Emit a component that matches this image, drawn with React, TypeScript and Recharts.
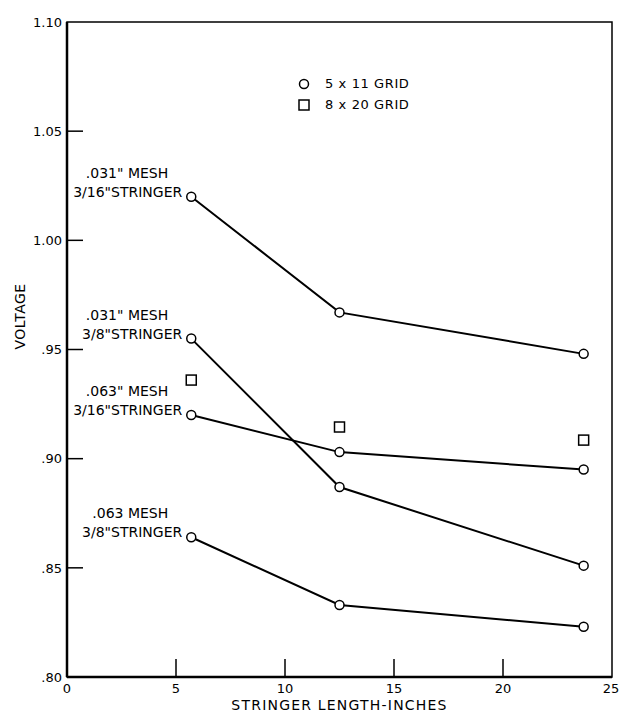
import {
  ComposedChart,
  Line,
  Scatter,
  XAxis,
  YAxis,
  ReferenceArea,
} from "recharts";

// stringer lengths (inches) where each grid was measured
const LENGTHS = [5.7, 12.5, 23.7];

// 5 x 11 grid, voltage per stringer length
const MESH_031_316 = [1.02, 0.967, 0.948];
const MESH_031_38 = [0.955, 0.887, 0.851];
const MESH_063_316 = [0.92, 0.903, 0.895];
const MESH_063_38 = [0.864, 0.833, 0.823];

// 8 x 20 grid
const GRID_8X20 = [0.936, 0.9145, 0.9085];

const X_TICKS = [0, 5, 10, 15, 20, 25];
const Y_TICKS = [0.8, 0.85, 0.9, 0.95, 1.0, 1.05, 1.1];
const Y_TICK_LABELS = [".80", ".85", ".90", ".95", "1.00", "1.05", "1.10"];

const SERIES = [
  { name: "a", values: MESH_031_316, label: ['.031" MESH', '3/16"STRINGER'] },
  { name: "b", values: MESH_031_38, label: ['.031" MESH', '3/8"STRINGER'] },
  { name: "c", values: MESH_063_316, label: ['.063" MESH', '3/16"STRINGER'] },
  { name: "d", values: MESH_063_38, label: [".063 MESH", '3/8"STRINGER'] },
];

const LEGEND = ["5 x 11 GRID", "8 x 20 GRID"];

const FONT = "'DejaVu Sans', sans-serif";

const toPoints = (values: number[]) => LENGTHS.map((x, i) => ({ x, y: values[i] }));

const YTick = (props: any) => {
  const { x, y, payload } = props;
  const i = Y_TICKS.indexOf(payload.value);
  const axisX = x + 5;
  const inner = i > 0 && i < Y_TICKS.length - 1;
  return (
    <g>
      {inner && <line x1={axisX} x2={axisX + 16} y1={y} y2={y} stroke="#000" strokeWidth={1.5} />}
      <text x={x} y={y} dy="0.36em" textAnchor="end" fontSize={13} fontFamily={FONT} fill="#000">
        {Y_TICK_LABELS[i]}
      </text>
    </g>
  );
};

const XTick = (props: any) => {
  const { x, y, payload } = props;
  const axisY = y - 6;
  const inner = payload.value > 0 && payload.value < 25;
  return (
    <g>
      {inner && <line x1={x} x2={x} y1={axisY} y2={axisY - 18} stroke="#000" strokeWidth={1.5} />}
      <text x={x} y={y} dy="0.74em" textAnchor="middle" fontSize={13} fontFamily={FONT} fill="#000">
        {payload.value}
      </text>
    </g>
  );
};

const makeLabel = (lines: string[]) => (props: any) => {
  if (props.index !== 0) return null;
  const { x, y } = props;
  const right = x - 9;
  return (
    <g fontSize={14} fontFamily={FONT} fill="#000">
      <text x={right - 14} y={y - 19} textAnchor="end">{lines[0]}</text>
      <text x={right} y={y} textAnchor="end">{lines[1]}</text>
    </g>
  );
};

const Square = (props: any) => (
  <rect
    x={props.cx - 5}
    y={props.cy - 5}
    width={10}
    height={10}
    fill="none"
    stroke="#000"
    strokeWidth={1.5}
  />
);

export default function App() {
  return (
    <div
      style={{
        position: "absolute",
        left: 0,
        top: 0,
        width: 619,
        height: 713,
        background: "#fff",
      }}
    >
      <ComposedChart
        width={619}
        height={713}
        margin={{ top: 22, right: 7, bottom: 0, left: 17 }}
      >
        <ReferenceArea
          x1={0}
          x2={25}
          y1={0.8}
          y2={1.1}
          fill="none"
          stroke="#000"
          strokeWidth={1.5}
        />
        <XAxis
          dataKey="x"
          type="number"
          domain={[0, 25]}
          ticks={X_TICKS}
          height={36}
          tickSize={0}
          tickMargin={6}
          tick={<XTick />}
          axisLine={{ stroke: "#000", strokeWidth: 2.5 }}
          label={{
            value: "STRINGER LENGTH-INCHES",
            position: "insideBottom",
            offset: 3,
            fill: "#000",
            fontSize: 14,
            letterSpacing: 1.2,
            fontFamily: FONT,
          }}
        />
        <YAxis
          dataKey="y"
          type="number"
          domain={[0.8, 1.1]}
          ticks={Y_TICKS}
          width={50}
          tickSize={0}
          tickMargin={5}
          tick={<YTick />}
          axisLine={{ stroke: "#000", strokeWidth: 2.5 }}
          label={{
            value: "VOLTAGE",
            angle: -90,
            position: "insideLeft",
            offset: 3,
            fill: "#000",
            fontSize: 14,
            letterSpacing: 0.5,
            fontFamily: FONT,
          }}
        />
        {SERIES.map((s) => (
          <Line
            key={s.name}
            data={toPoints(s.values)}
            dataKey="y"
            stroke="#000"
            strokeWidth={2}
            dot={{ r: 4.5, fill: "#fff", stroke: "#000", strokeWidth: 1.5 }}
            activeDot={false}
            label={makeLabel(s.label)}
            isAnimationActive={false}
          />
        ))}
        <Scatter data={toPoints(GRID_8X20)} shape={<Square />} isAnimationActive={false} />
      </ComposedChart>
      <div
        style={{
          position: "absolute",
          left: 298,
          top: 73,
          fontFamily: FONT,
          fontSize: 13,
          letterSpacing: 0.6,
          lineHeight: "21px",
          color: "#000",
        }}
      >
        <div style={{ display: "flex", alignItems: "center" }}>
          <svg width={12} height={12} style={{ marginRight: 15 }}>
            <circle cx={6} cy={6} r={4.5} fill="none" stroke="#000" strokeWidth={1.5} />
          </svg>
          {LEGEND[0]}
        </div>
        <div style={{ display: "flex", alignItems: "center" }}>
          <svg width={12} height={12} style={{ marginRight: 15 }}>
            <rect x={1} y={1} width={10} height={10} fill="none" stroke="#000" strokeWidth={1.5} />
          </svg>
          {LEGEND[1]}
        </div>
      </div>
    </div>
  );
}
